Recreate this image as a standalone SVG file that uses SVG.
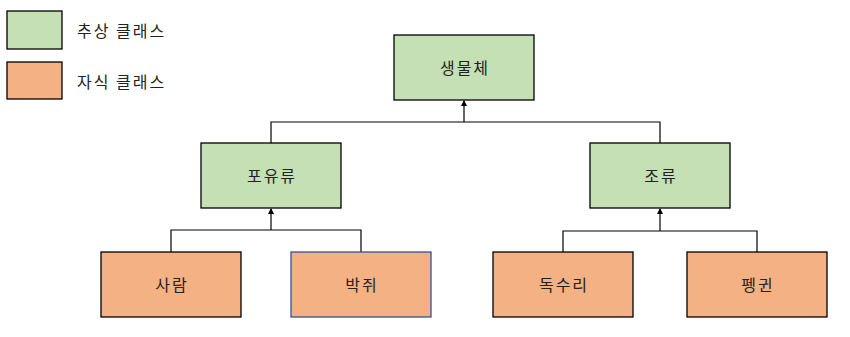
<svg xmlns="http://www.w3.org/2000/svg" width="850" height="337" viewBox="0 0 850 337">
<style>
.abs{fill:#C5E0B4;stroke:#000;stroke-width:1.3}
.con{fill:#F4B183;stroke:#000;stroke-width:1.3}
.t{font-family:"Noto Sans CJK KR","Noto Sans",sans-serif;font-size:16px;letter-spacing:2px;fill:#222;text-anchor:middle;dominant-baseline:central}
.lt{font-family:"Noto Sans CJK KR","Noto Sans",sans-serif;font-size:16px;letter-spacing:2px;fill:#222;dominant-baseline:central}
.ln{fill:none;stroke:#000;stroke-width:1.2}
</style>
<defs>
<marker id="arr" markerWidth="6" markerHeight="6" refX="5" refY="3" orient="auto" markerUnits="userSpaceOnUse">
<path d="M0,0 L6,3 L0,6 z" fill="#000"/>
</marker>
</defs>
<g id="legend">
<rect class="abs" x="7" y="11" width="55" height="38"/>
<text class="lt" x="77" y="30">추상 클래스</text>
<rect class="con" x="7" y="62" width="55" height="37"/>
<text class="lt" x="77" y="81">자식 클래스</text>
</g>
<g id="connectors">
<path class="ln" d="M271,143 V122 H660 V143"/>
<path class="ln" d="M464,122 V101" marker-end="url(#arr)"/>
<path class="ln" d="M171,252 V230 H361 V252"/>
<path class="ln" d="M271,230 V209" marker-end="url(#arr)"/>
<path class="ln" d="M563,252 V231 H757 V252"/>
<path class="ln" d="M660,231 V209" marker-end="url(#arr)"/>
</g>
<g id="n-life"><rect class="abs" x="394" y="35" width="140" height="65"/><text class="t" x="465" y="67">생물체</text></g>
<g id="n-mammal"><rect class="abs" x="201" y="143" width="140" height="65"/><text class="t" x="272" y="175">포유류</text></g>
<g id="n-bird"><rect class="abs" x="590" y="143" width="140" height="65"/><text class="t" x="661" y="175">조류</text></g>
<g id="n-human"><rect class="con" x="101" y="252" width="140" height="65"/><text class="t" x="172" y="284">사람</text></g>
<g id="n-bat"><rect class="con" x="291" y="252" width="140" height="65" style="stroke:#2F5597"/><text class="t" x="362" y="284">박쥐</text></g>
<g id="n-eagle"><rect class="con" x="493" y="252" width="140" height="65"/><text class="t" x="564" y="284">독수리</text></g>
<g id="n-penguin"><rect class="con" x="687" y="252" width="140" height="65"/><text class="t" x="758" y="284">펭귄</text></g>
</svg>
